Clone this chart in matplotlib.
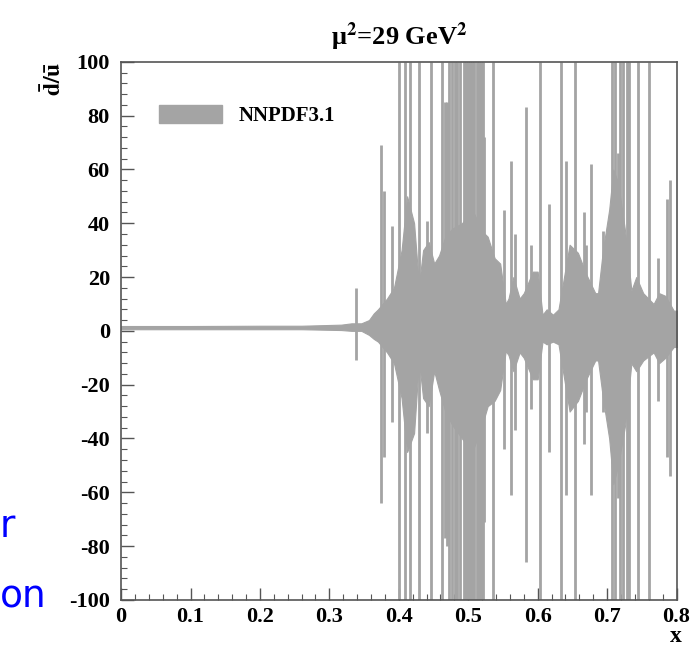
import numpy as np
import matplotlib.pyplot as plt
from matplotlib.patches import Patch
from matplotlib.ticker import MultipleLocator, FuncFormatter

plt.rcParams['font.family'] = ['Liberation Serif', 'DejaVu Serif']
plt.rcParams['font.weight'] = 'bold'
plt.rcParams['mathtext.fontset'] = 'stix'
plt.rcParams['axes.unicode_minus'] = False

band_color = '#a4a4a4'

# dense part of the NNPDF3.1 band: x, upper edge, lower edge
core_x = [0.0, 0.10, 0.20, 0.26, 0.317, 0.332, 0.346, 0.357, 0.364, 0.370,
          0.383, 0.393, 0.404, 0.412, 0.422, 0.429, 0.435, 0.443, 0.451,
          0.458, 0.467, 0.477, 0.491, 0.506, 0.520, 0.528, 0.538, 0.546,
          0.554, 0.558, 0.565, 0.574, 0.580, 0.593, 0.600, 0.607, 0.613,
          0.622, 0.630, 0.646, 0.658, 0.670, 0.683, 0.687, 0.694, 0.703,
          0.709, 0.716, 0.726, 0.735, 0.742, 0.752, 0.767, 0.775, 0.784,
          0.796, 0.803]
core_hi = [1.8, 1.8, 1.9, 1.9, 2.3, 2.8, 2.8, 4, 6.5, 8,
           12, 16, 30, 50, 40, 17, 30, 33, 25,
           28, 35, 38, 40, 45, 37, 35, 27, 25,
           10, 12, 20, 12, 14, 22, 22, 6, 8,
           6, 8, 32, 29, 21, 14, 14, 30, 45,
           60, 55, 37, 15, 20, 14, 10, 14, 13,
           7.5, 7.5]
core_lo = [0.6, 0.6, 0.6, 0.6, 0.3, 0.0, 0.0, -1.5, -3, -4,
           -8, -12, -25, -45, -38, -11, -25, -28, -15,
           -22, -30, -35, -40, -45, -35, -28, -26, -22,
           -7.5, -9, -15, -8, -10, -18, -18, -4, -5,
           -4, -5, -30, -26, -18, -11, -11, -25, -40,
           -57, -50, -35, -12, -15, -11, -8, -12, -10,
           -6, -6]

# narrow replica spikes: x, top, bottom
spike_x = [0.338, 0.374, 0.378, 0.390, 0.400, 0.409, 0.416, 0.429, 0.441,
           0.446, 0.462, 0.466, 0.470, 0.472, 0.477, 0.481, 0.484, 0.488,
           0.494, 0.497, 0.500, 0.503, 0.506, 0.509, 0.512, 0.515, 0.518,
           0.521, 0.523, 0.536, 0.551, 0.561, 0.568, 0.583, 0.590, 0.603,
           0.617, 0.633, 0.641, 0.654, 0.667, 0.670, 0.677, 0.694, 0.707,
           0.712, 0.716, 0.719, 0.723, 0.728, 0.732, 0.745, 0.761, 0.774,
           0.786, 0.791]
spike_hi = [16, 69, 52, 39, 100, 100, 100, 100, 41,
            100, 100, 85, 85, 100, 100, 100, 100, 100,
            100, 100, 100, 100, 100, 100, 100, 100, 100,
            100, 72, 100, 45, 63, 36, 83, 32, 100,
            47, 100, 63, 100, 44, 32, 62, 37, 100,
            100, 66, 100, 100, 100, 100, 100, 100, 27,
            49, 56]
spike_lo = [-11, -64, -47, -34, -100, -100, -100, -100, -38,
            -100, -100, -77, -80, -100, -100, -100, -100, -100,
            -100, -100, -100, -100, -100, -100, -100, -100, -100,
            -100, -71, -100, -44, -61, -37, -86, -29, -100,
            -45, -100, -61, -100, -42, -30, -61, -30, -100,
            -100, -62, -100, -100, -100, -100, -100, -100, -26,
            -47, -54]

fig = plt.figure(figsize=(6.96, 6.5), dpi=100)
ax = fig.add_axes([0.174, 0.077, 0.798, 0.828])

ax.fill_between(core_x, core_lo, core_hi, color=band_color, lw=0.8)
ax.vlines(spike_x, spike_lo, spike_hi, color=band_color, lw=2.0)

ax.set_xlim(0, 0.8)
ax.set_ylim(-100, 100)
ax.xaxis.set_major_locator(MultipleLocator(0.1))
ax.xaxis.set_minor_locator(MultipleLocator(0.02))
ax.yaxis.set_major_locator(MultipleLocator(20))
ax.yaxis.set_minor_locator(MultipleLocator(4))
ax.xaxis.set_major_formatter(FuncFormatter(lambda v, p: '0' if abs(v) < 1e-9 else f'{v:.1f}'))
ax.tick_params(which='both', direction='in', labelsize=16, color='#555555')
ax.tick_params(which='major', length=9, width=1)
ax.tick_params(which='minor', length=4.5, width=0.8)
ax.tick_params(axis='y', which='major', pad=8)
ax.tick_params(axis='x', which='major', pad=5)
for s in ax.spines.values():
    s.set_color('#555555')
    s.set_linewidth(1.2)

ax.set_xlabel('x', fontsize=17, fontweight='bold')
ax.xaxis.label.set_horizontalalignment('right')
ax.xaxis.label.set_verticalalignment('center')
ax.xaxis.set_label_coords(1.01, -0.068)
ax.set_ylabel(r'$\mathbf{\bar{d}/\bar{u}}$', fontsize=17, loc='top', labelpad=2)
ax.set_title(r'μ$^{\mathbf{2}}$=29 GeV$^{\mathbf{2}}$', fontsize=19,
             fontweight='bold', pad=12)

ax.legend(handles=[Patch(facecolor=band_color, edgecolor=band_color)],
          labels=['NNPDF3.1'], loc='upper left', bbox_to_anchor=(0.035, 0.955),
          frameon=False, fontsize=15, handlelength=3.0, handleheight=1.0,
          handletextpad=0.8)

# fragments of slide text at the left edge
fig.text(0.0, 1 - 597 / 650, 'on', color='#0000ff', fontsize=27,
         family='DejaVu Sans', fontweight='normal', va='center', ha='left')
fig.text(0.0, 1 - 527 / 650, 'r', color='#0000ff', fontsize=27,
         family='DejaVu Sans', fontweight='normal', va='center', ha='left')

fig.savefig('out.png', dpi=100)
